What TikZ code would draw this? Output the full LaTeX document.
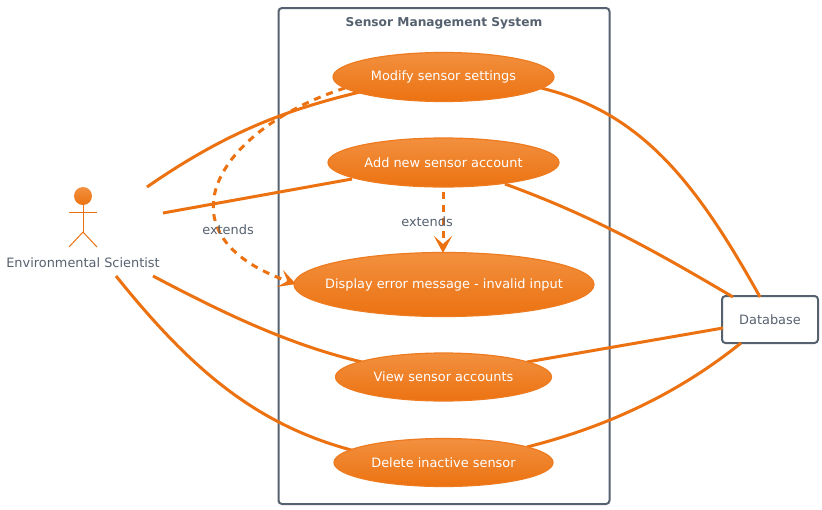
\documentclass[tikz,border=0pt]{standalone}
\usepackage{fontspec}
\setmainfont{DejaVu Sans}
\usetikzlibrary{positioning,shapes.geometric,arrows.meta}
\definecolor{slateline}{HTML}{56616F}
\definecolor{slatetext}{HTML}{56616F}
\definecolor{awsorange}{HTML}{EC7211}
\definecolor{lightorange}{HTML}{F2903F}

\begin{document}
\begin{tikzpicture}[x=1pt,y=-1pt,
usecase/.style={ellipse, draw=awsorange!70!lightorange, line width=1.2pt, top color=lightorange, bottom color=awsorange, inner ysep=0pt, inner xsep=-40pt, text=white, font=\fontsize{12.9}{15}\selectfont},
boxnode/.style={rectangle, draw=slateline, line width=2pt, rounded corners=3.5pt, fill=white, text=slatetext, font=\fontsize{12.9}{15}\selectfont},
link/.style={draw=awsorange, line width=3pt},
extendlink/.style={link, dash pattern=on 7pt off 6pt, -{Stealth[length=17pt,width=18pt,inset=8pt,sep=0pt]}},
textlabel/.style={text=slatetext, font=\fontsize{12.9}{15}\selectfont, inner sep=0pt},
limb/.style={draw=awsorange, line width=1pt},
]
\useasboundingbox (0,0) rectangle (822,509);

%System
\node[boxnode, minimum width=331pt, minimum height=496pt, outer sep=0pt] (system) at (444,256) {};
\node[textlabel, font=\fontsize{12.2}{15}\selectfont\bfseries] (systemtitle) at (444,23) {Sensor Management System};

%Actor
\node[circle, minimum size=18pt, inner sep=0pt, top color=lightorange, bottom color=awsorange] (head) at (83,196) {};
\coordinate (neck) at (83,205);
\coordinate (hip) at (83,232);
\coordinate (handl) at (69,212);
\coordinate (handr) at (97,212);
\coordinate (footl) at (69,247);
\coordinate (footr) at (97,247);
\draw[limb] (neck) -- (hip);
\draw[limb] (handl) -- (handr);
\draw[limb] (footl) -- (hip) -- (footr);
\node[textlabel] (scientist) at (83,263) {Environmental Scientist};
\coordinate (actora) at (147,187);
\coordinate (actorb) at (163,213);
\coordinate (actorc) at (153,276);
\coordinate (actord) at (116,276);

%Nodes
\node[boxnode, minimum width=96pt, minimum height=47pt] (database) at (770,319.5) {Database};
\coordinate (modifyext) at (345,88);

%Lines
\draw[link] (actora) .. controls (225,133) and (285,110) .. (360,92) coordinate (modifyin);
\draw[link] (actorb) -- (352,179) coordinate (addin);
\draw[link] (actorc) .. controls (225,314) and (290,345) .. (362,362) coordinate (viewin);
\draw[link] (actord) .. controls (190,368) and (255,425) .. (355,451) coordinate (deletein);
\draw[link] (541,88) coordinate (modifyout) .. controls (640,112) and (695,180) .. (760,297);
\draw[link] (505,184) coordinate (addout) .. controls (590,215) and (650,248) .. (733,297);
\draw[link] (527,362) coordinate (viewout) -- (723,328);
\draw[link] (527,447) coordinate (deleteout) .. controls (610,426) and (680,392) .. (741,343);
\draw[extendlink] (modifyext) .. controls (215,130) and (155,235) .. (296,284);
\draw[extendlink] (443,192) -- (443,253);

%Cases
\node[usecase, minimum width=221pt, minimum height=49pt] (modify) at (443.5,77) {Modify sensor settings};
\node[usecase, minimum width=231pt, minimum height=49pt] (add) at (443.5,162.5) {Add new sensor account};
\node[usecase, minimum width=300pt, minimum height=64pt] (display) at (444,284.5) {Display error message - invalid input};
\node[usecase, minimum width=216pt, minimum height=48pt] (view) at (443.5,377) {View sensor accounts};
\node[usecase, minimum width=219pt, minimum height=48pt] (delete) at (443.5,462.5) {Delete inactive sensor};

%Labels
\node[textlabel] (extenda) at (228,230) {extends};
\node[textlabel] (extendb) at (427,221.5) {extends};

\end{tikzpicture}
\end{document}
